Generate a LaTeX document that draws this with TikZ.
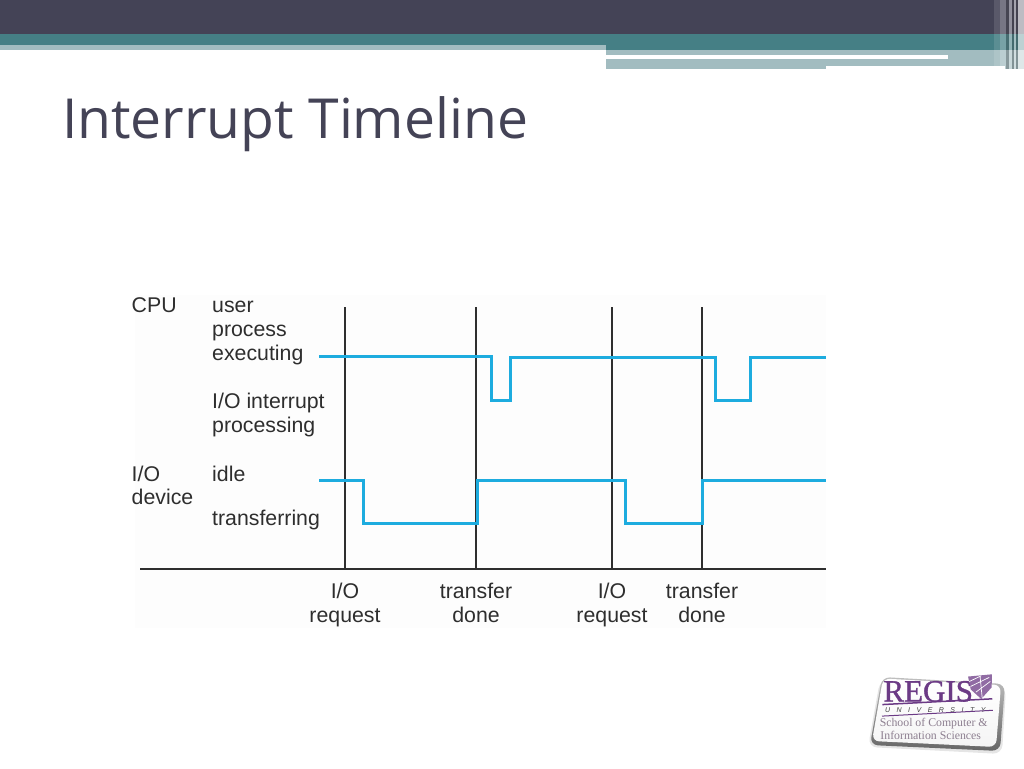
\documentclass[tikz,border=0pt]{standalone}
\usepackage{fontspec}
\setmainfont{Liberation Sans}
\newfontfamily\titlefont{Open Sans}
\newfontfamily\logofont{Liberation Serif}
\usetikzlibrary{calc}
\definecolor{hdark}{HTML}{444356}
\definecolor{hteal}{HTML}{457F85}
\definecolor{hlight}{HTML}{A2BCC0}
\definecolor{wave}{HTML}{1DACDF}
\definecolor{ink}{HTML}{2E2E2E}
\definecolor{titleink}{HTML}{444356}
\definecolor{regis}{HTML}{6B3A85}
\definecolor{regisgrey}{HTML}{8D7F90}
\tikzset{
  x=1pt,y=-1pt,
  lab/.style={font=\fontsize{21.3}{24}\selectfont,text=ink,inner sep=0pt,anchor=base west,align=left},
  tick/.style={font=\fontsize{21.3}{24}\selectfont,text=ink,inner sep=0pt,align=center,anchor=north},
  axisline/.style={draw=ink,line width=1.6pt},
  marker/.style={draw=ink,line width=1.25pt},
  trace/.style={draw=wave,line width=3pt,line join=miter},
}
\begin{document}
\begin{tikzpicture}
\useasboundingbox (0,0) rectangle (1024,768);
\fill[white] (0,0) rectangle (1024,768);
% header
\fill[hlight] (606,50) rectangle (1024,66);
\fill[hlight] (606,66) rectangle (826,69);
\fill[hlight] (1005,66) rectangle (1024,69);
\fill[white] (606,55.5) rectangle (948,59);
\fill[hdark] (0,0) rectangle (1024,34);
\fill[hteal] (0,34) rectangle (1024,50);
\fill[hlight] (0,45) rectangle (606,50);
\fill[white,opacity=.12] (994,0) rectangle (1024,69);
\fill[white,opacity=.18] (1000,0) rectangle (1006,69);
\fill[black,opacity=.22] (1006,0) rectangle (1009,69);
\fill[white,opacity=.35] (1009,0) rectangle (1012,69);
\fill[black,opacity=.25] (1012,0) rectangle (1013.5,69);
\fill[white,opacity=.45] (1013.5,0) rectangle (1016,69);
\fill[black,opacity=.25] (1016,0) rectangle (1017.5,69);
\fill[white,opacity=.6] (1017.5,0) rectangle (1024,69);
% title
\node[inner sep=0pt,anchor=base west,text=titleink,font=\titlefont\fontsize{55.2}{60}\selectfont] (title) at (62,138) {Interrupt Timeline};
% diagram ground
\fill[black!.8] (135,295) rectangle (826,628);
% named points
\coordinate (axisL) at (140,569);
\coordinate (axisR) at (826,569);
\coordinate (m1t) at (345,307); \coordinate (m1b) at (345,569);
\coordinate (m2t) at (476,307); \coordinate (m2b) at (476,569);
\coordinate (m3t) at (612,307); \coordinate (m3b) at (612,569);
\coordinate (m4t) at (702,307); \coordinate (m4b) at (702,569);
\draw[marker] (m1t) -- (m1b);
\draw[marker] (m2t) -- (m2b);
\draw[marker] (m3t) -- (m3b);
\draw[marker] (m4t) -- (m4b);
\draw[axisline] (axisL) -- (axisR);
% CPU trace
\coordinate (cpuS) at (319,356);
\coordinate (cpuE) at (826,357);
\draw[trace] (cpuS) -- (491,356) -- (491,400.5) -- (510,400.5) -- (510,357) -- (715,357) -- (715,400.5) -- (750,400.5) -- (750,357) -- (cpuE);
% IO trace
\coordinate (ioS) at (319,480);
\coordinate (ioE) at (826,480);
\draw[trace] (ioS) -- (363,480) -- (363,523.5) -- (477,523.5) -- (477,480) -- (625,480) -- (625,523.5) -- (702,523.5) -- (702,480) -- (ioE);
% labels
\node[lab] (cpu) at (131.5,312) {CPU};
\node[lab] (l1) at (212,312) {user};
\node[lab] (l2) at (212,336) {process};
\node[lab] (l3) at (212,360) {executing};
\node[lab] (l4) at (212,408) {I/O interrupt};
\node[lab] (l5) at (212,432) {processing};
\node[lab] (io1) at (131.5,481) {I/O};
\node[lab] (io2) at (131.5,504.5) {device};
\node[lab] (l6) at (212,481) {idle};
\node[lab] (l7) at (212,525.5) {transferring};
\node[tick] (t1) at (345,583) {I/O\\request};
\node[tick] (t2) at (476,583) {transfer\\done};
\node[tick] (t3) at (612,583) {I/O\\request};
\node[tick] (t4) at (702,583) {transfer\\done};
% logo
\begin{scope}
\fill[black,opacity=.10,rounded corners=9pt] (880,680) -- (1006,687) -- (1002,754) -- (868,747) -- cycle;
\shade[top color=black!25,bottom color=black!60,rounded corners=8pt] (882,677) -- (1005,684) -- (1000,751) -- (870,745) -- cycle;
\shade[top color=white,bottom color=black!4,rounded corners=7pt] (883,678.5) -- (1001,685) -- (996,747) -- (872,741) -- cycle;
\begin{scope}[shift={(883,678)},rotate=3]
\node[inner sep=0pt,anchor=base west,text=regis,font=\logofont\fontsize{31}{31}\selectfont] (regisname) at (-1,23.5) {\special{pdf:code 0.35 w 2 Tr}REGIS\special{pdf:code 0 Tr}};
\fill[regis!75] (85,3) -- (109,2) -- (108,15) -- (97,26) -- (87,16) -- cycle;
\draw[white,line width=.7pt] (87,13) -- (106,5) (92,19) -- (107,9) (86,8) -- (98,3) (97,3) -- (98,25);
\draw[regis,line width=1.5pt] (-2,26.5) -- (108,26.5);
\node[inner sep=0pt,anchor=base west,text=black!75,font=\itshape\fontsize{7}{7}\selectfont] (univ) at (0,35) {U\hspace{6.5pt}N\hspace{6.5pt}I\hspace{6.5pt}V\hspace{6.5pt}E\hspace{6.5pt}R\hspace{6.5pt}S\hspace{6.5pt}I\hspace{6.5pt}T\hspace{6.5pt}Y};
\draw[regis,line width=1pt] (-3,38) -- (108,38);
\node[inner sep=0pt,anchor=base west,text=regisgrey,font=\logofont\fontsize{11.8}{12}\selectfont] (sch) at (-6,48.5) {School of Computer \&};
\node[inner sep=0pt,anchor=base west,text=regisgrey,font=\logofont\fontsize{11.8}{12}\selectfont] (inf) at (-6,61.5) {Information Sciences};
\end{scope}
\end{scope}
\end{tikzpicture}
\end{document}
